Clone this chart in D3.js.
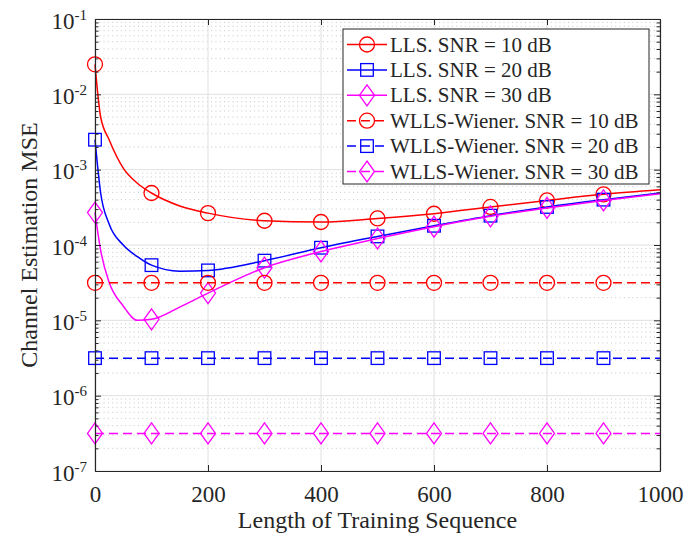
<!DOCTYPE html>
<html>
<head>
<meta charset="utf-8">
<script src="https://cdn.jsdelivr.net/npm/d3@7"></script>
<style>
    body { margin: 0; background: #fff; }
    svg text { font-family: "Liberation Serif", "Times New Roman", serif; fill: #262626; }
</style>
</head>
<body>
<svg width="698" height="537"></svg>
<script>
// length of training sequence (x) for the LLS curves
const trainLen = [0, 10, 25, 50, 75, 100, 150, 200, 300, 400, 500, 600, 700, 800, 900, 1000];
const llsSnr10 = [0.025, 5.0e-3, 2.5e-3, 1.05e-3, 6.6e-4, 4.9e-4, 3.3e-4, 2.65e-4, 2.1e-4, 2.02e-4, 2.25e-4, 2.6e-4, 3.2e-4, 3.9e-4, 4.7e-4, 5.4e-4];
const llsSnr20 = [2.5e-3, 4.9e-4, 1.9e-4, 1.0e-4, 7.0e-5, 5.4e-5, 4.5e-5, 4.6e-5, 6.2e-5, 9.2e-5, 1.3e-4, 1.8e-4, 2.45e-4, 3.2e-4, 4.0e-4, 4.9e-4];
const llsSnr30 = [2.7e-4, 8.5e-5, 3.2e-5, 1.55e-5, 1.0e-5, 1.03e-5, 1.5e-5, 2.3e-5, 5.0e-5, 8.2e-5, 1.22e-4, 1.75e-4, 2.4e-4, 3.1e-4, 3.9e-4, 4.8e-4];

// WLLS-Wiener curves are flat
const wllsLen = [0, 100, 200, 300, 400, 500, 600, 700, 800, 900, 1000];
const wllsSnr10 = [3.15e-5, 3.15e-5, 3.15e-5, 3.15e-5, 3.15e-5, 3.15e-5, 3.15e-5, 3.15e-5, 3.15e-5, 3.15e-5, 3.15e-5];
const wllsSnr20 = [3.15e-6, 3.15e-6, 3.15e-6, 3.15e-6, 3.15e-6, 3.15e-6, 3.15e-6, 3.15e-6, 3.15e-6, 3.15e-6, 3.15e-6];
const wllsSnr30 = [3.15e-7, 3.15e-7, 3.15e-7, 3.15e-7, 3.15e-7, 3.15e-7, 3.15e-7, 3.15e-7, 3.15e-7, 3.15e-7, 3.15e-7];

const xTicks = [0, 200, 400, 600, 800, 1000];
const yExponents = [-7, -6, -5, -4, -3, -2, -1];

const seriesNames = ['LLS. SNR = 10 dB', 'LLS. SNR = 20 dB', 'LLS. SNR = 30 dB',
    'WLLS-Wiener. SNR = 10 dB', 'WLLS-Wiener. SNR = 20 dB', 'WLLS-Wiener. SNR = 30 dB'];

const series = [
    { name: seriesNames[0], xs: trainLen, ys: llsSnr10, color: '#ff0000', symbol: 'circle', dashed: false },
    { name: seriesNames[1], xs: trainLen, ys: llsSnr20, color: '#0000ff', symbol: 'square', dashed: false },
    { name: seriesNames[2], xs: trainLen, ys: llsSnr30, color: '#ff00ff', symbol: 'diamond', dashed: false },
    { name: seriesNames[3], xs: wllsLen, ys: wllsSnr10, color: '#ff0000', symbol: 'circle', dashed: true },
    { name: seriesNames[4], xs: wllsLen, ys: wllsSnr20, color: '#0000ff', symbol: 'square', dashed: true },
    { name: seriesNames[5], xs: wllsLen, ys: wllsSnr30, color: '#ff00ff', symbol: 'diamond', dashed: true }
];

const FONT = '"Liberation Serif", "Times New Roman", serif';

const svg = d3.select('svg');
const width = +svg.attr('width');
const height = +svg.attr('height');
const margin = { top: 19, right: 38, bottom: 66, left: 95 };
const innerWidth = width - margin.left - margin.right;
const innerHeight = height - margin.top - margin.bottom;

const g = svg.append('g')
    .attr('transform', `translate(${margin.left},${margin.top})`);

const xScale = d3.scaleLinear().domain([0, 1000]).range([0, innerWidth]);
const yScale = d3.scaleLog().domain([1e-7, 1e-1]).range([innerHeight, 0]);

const decades = yExponents.map(e => Math.pow(10, e));
const minors = [];
yExponents.slice(0, -1).forEach(e => {
    for (let m = 2; m <= 9; m++) minors.push(m * Math.pow(10, e));
});

// grid
const grid = g.append('g');
grid.selectAll('.minor-grid')
    .data(minors)
    .enter().append('line')
    .attr('x1', 0).attr('x2', innerWidth)
    .attr('y1', d => yScale(d)).attr('y2', d => yScale(d))
    .attr('stroke', '#b8b8b8')
    .attr('stroke-width', 0.8)
    .attr('stroke-dasharray', '1,3.3');
grid.selectAll('.major-y')
    .data(decades)
    .enter().append('line')
    .attr('x1', 0).attr('x2', innerWidth)
    .attr('y1', d => yScale(d)).attr('y2', d => yScale(d))
    .attr('stroke', '#e0e0e0')
    .attr('stroke-width', 1);
grid.selectAll('.major-x')
    .data(xTicks)
    .enter().append('line')
    .attr('x1', d => xScale(d)).attr('x2', d => xScale(d))
    .attr('y1', 0).attr('y2', innerHeight)
    .attr('stroke', '#e0e0e0')
    .attr('stroke-width', 1);

// symbols
const drawSymbol = (sel, symbol, color) => {
    if (symbol === 'circle') {
        sel.append('circle').attr('r', 7.5);
    } else if (symbol === 'square') {
        sel.append('rect').attr('x', -6.3).attr('y', -6.3).attr('width', 12.6).attr('height', 12.6);
    } else {
        sel.append('path').attr('d', 'M0,-10.5L7.5,0L0,10.5L-7.5,0Z');
    }
    sel.selectAll('circle,rect,path')
        .attr('fill', 'none')
        .attr('stroke', color)
        .attr('stroke-width', 1.3);
};

const plot = g.append('g');
series.forEach(s => {
    const pts = s.xs.map((x, i) => ({ x: x, y: s.ys[i] }));
    const line = d3.line()
        .x(d => xScale(d.x))
        .y(d => yScale(d.y))
        .curve(d3.curveMonotoneX);
    plot.append('path')
        .datum(pts)
        .attr('d', line)
        .attr('fill', 'none')
        .attr('stroke', s.color)
        .attr('stroke-width', 1.5)
        .attr('stroke-dasharray', s.dashed ? '9,5' : null);
    pts.filter(d => d.x % 100 === 0 && d.x < 1000).forEach(d => {
        const m = plot.append('g').attr('transform', `translate(${xScale(d.x)},${yScale(d.y)})`);
        drawSymbol(m, s.symbol, s.color);
    });
});

// axes (ticks point inward, box on)
const axisColor = '#262626';
const styleAxis = a => {
    a.attr('font-family', FONT).attr('font-size', 23);
    a.selectAll('path, line').attr('stroke', axisColor);
    a.select('.domain').attr('stroke-width', 1.1);
};
// axes that only carry tick marks
const tickOnly = a => {
    styleAxis(a);
    a.selectAll('text').remove();
};

const xAxis = g.append('g')
    .attr('transform', `translate(0,${innerHeight})`)
    .call(d3.axisBottom(xScale).tickValues(xTicks).tickFormat(d3.format('d'))
        .tickSizeInner(-6).tickSizeOuter(0).tickPadding(15));
styleAxis(xAxis);
xAxis.selectAll('text').attr('fill', axisColor);

g.append('g')
    .call(d3.axisTop(xScale).tickValues(xTicks).tickSizeInner(-6).tickSizeOuter(0))
    .call(tickOnly);

const yAxis = g.append('g')
    .call(d3.axisLeft(yScale).tickValues(decades).tickSizeInner(-6).tickSizeOuter(0).tickPadding(8));
styleAxis(yAxis);
yAxis.selectAll('.tick text')
    .text(null)
    .attr('fill', axisColor)
    .attr('dy', 9)
    .each(function (d) {
        const t = d3.select(this);
        t.append('tspan').text('10');
        t.append('tspan').attr('dy', -9).attr('font-size', 15).text(Math.round(Math.log10(d)));
    });

g.append('g')
    .call(d3.axisLeft(yScale).tickValues(minors).tickSizeInner(-3.5).tickSizeOuter(0))
    .call(tickOnly);

g.append('g')
    .attr('transform', `translate(${innerWidth},0)`)
    .call(d3.axisRight(yScale).tickValues(decades).tickSizeInner(-6).tickSizeOuter(0))
    .call(tickOnly);
g.append('g')
    .attr('transform', `translate(${innerWidth},0)`)
    .call(d3.axisRight(yScale).tickValues(minors).tickSizeInner(-3.5).tickSizeOuter(0))
    .call(tickOnly);

// axis labels
g.append('text')
    .attr('x', innerWidth / 2)
    .attr('y', innerHeight + 57)
    .attr('text-anchor', 'middle')
    .attr('font-family', FONT)
    .attr('font-size', 24)
    .text('Length of Training Sequence');

svg.append('text')
    .attr('transform', `translate(37,${margin.top + innerHeight / 2}) rotate(-90)`)
    .attr('text-anchor', 'middle')
    .attr('font-family', FONT)
    .attr('font-size', 24)
    .text('Channel Estimation MSE');

// legend
const legend = svg.append('g').attr('transform', 'translate(343,29)');
legend.append('rect')
    .attr('width', 306)
    .attr('height', 155)
    .attr('fill', '#fff')
    .attr('stroke', axisColor)
    .attr('stroke-width', 1);
series.forEach((s, i) => {
    const row = legend.append('g').attr('transform', `translate(0,${15.5 + i * 25.4})`);
    row.append('line')
        .attr('x1', 4).attr('x2', 44)
        .attr('stroke', s.color)
        .attr('stroke-width', 1.5)
        .attr('stroke-dasharray', s.dashed ? '9,5' : null);
    const m = row.append('g').attr('transform', 'translate(24,0)');
    drawSymbol(m, s.symbol, s.color);
    row.append('text')
        .attr('x', 47)
        .attr('y', 7)
        .attr('font-family', FONT)
        .attr('font-size', 21)
        .attr('fill', '#000')
        .text(s.name);
});
</script>
</body>
</html>
